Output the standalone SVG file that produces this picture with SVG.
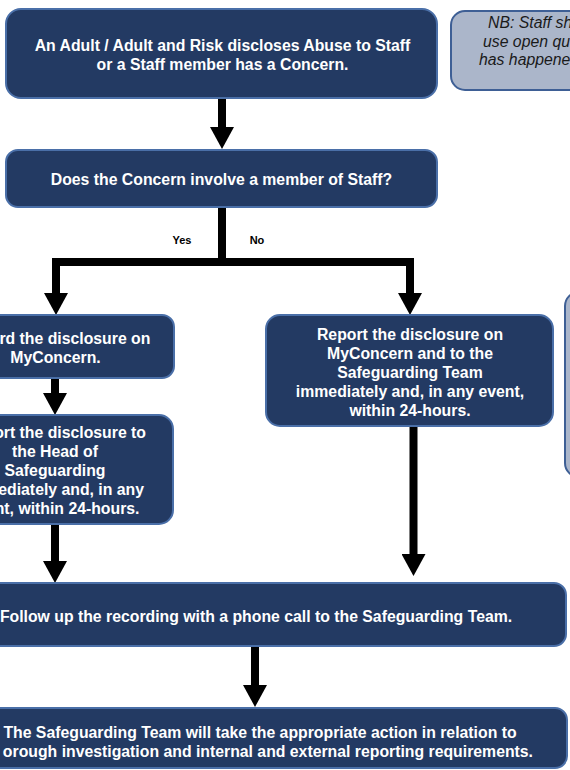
<svg xmlns="http://www.w3.org/2000/svg" width="570" height="770" viewBox="0 0 570 770">
<defs>
<style>
.box{fill:#233a63;stroke:#4a6fa8;stroke-width:2}
.note{fill:#abb6ca;stroke:#3e5f95;stroke-width:2}
.t{font-family:"Liberation Sans",Arial,sans-serif;font-weight:bold;font-size:15.8px;fill:#ffffff}
.m{text-anchor:middle}
.e{text-anchor:end}
.nt{font-family:"Liberation Sans",Arial,sans-serif;font-style:italic;font-size:15.8px;fill:#1a1a1a}
.lbl{font-family:"Liberation Sans",Arial,sans-serif;font-weight:bold;font-size:11px;fill:#000;text-anchor:middle}
.c{fill:none;stroke:#000;stroke-width:8;stroke-linejoin:miter;marker-end:url(#ah)}
.s{fill:none;stroke:#000;stroke-width:8}
</style>
<marker id="ah" markerUnits="userSpaceOnUse" markerWidth="22" markerHeight="24" viewBox="0 0 22 24" refX="0" refY="12" orient="auto">
<path d="M0,0 L22,12 L0,24 Z" fill="#000"/>
</marker>
</defs>
<rect width="570" height="770" fill="#ffffff"/>
<g id="connectors">
<path class="c" d="M222,98 V127"/>
<path class="s" d="M222,207 V262"/>
<path class="c" d="M222,262 H56 V293"/>
<path class="c" d="M222,262 H410 V293"/>
<path class="c" d="M55,378 V393"/>
<path class="c" d="M55,524 V561"/>
<path class="c" d="M413.5,426 V554"/>
<path class="c" d="M255,646 V685"/>
<text class="lbl" x="182" y="244">Yes</text>
<text class="lbl" x="257" y="244">No</text>
</g>
<g id="n-start">
<rect class="box" x="6" y="9" width="431" height="89" rx="15"/>
<text class="t m" x="222.5" y="51">An Adult / Adult and Risk discloses Abuse to Staff</text>
<text class="t m" x="222.5" y="70">or a Staff member has a Concern.</text>
</g>
<g id="n-note">
<rect class="note" x="451" y="11" width="160" height="79" rx="14"/>
<text class="nt" x="488" y="28">NB: Staff sh</text>
<text class="nt" x="483" y="46.5">use open qu</text>
<text class="nt" x="479" y="65">has happene</text>
</g>
<g id="n-question">
<rect class="box" x="6" y="150" width="431" height="57" rx="12"/>
<text class="t m" x="221.5" y="185">Does the Concern involve a member of Staff?</text>
</g>
<g id="n-record">
<rect class="box" x="-70" y="315" width="244" height="63" rx="12"/>
<text class="t e" x="150.4" y="344">rd the disclosure on</text>
<text class="t m" x="55.5" y="363">MyConcern.</text>
</g>
<g id="n-head">
<rect class="box" x="-70" y="415" width="243" height="109" rx="14"/>
<text class="t e" x="146" y="438">ort the disclosure to</text>
<text class="t m" x="55" y="457">the Head of</text>
<text class="t m" x="55" y="476">Safeguarding</text>
<text class="t e" x="144" y="495">ediately and, in any</text>
<text class="t e" x="139.5" y="514">nt, within 24-hours.</text>
</g>
<g id="n-report">
<rect class="box" x="266" y="315" width="287" height="111" rx="14"/>
<text class="t m" x="410" y="340">Report the disclosure on</text>
<text class="t m" x="410" y="359">MyConcern and to the</text>
<text class="t m" x="410" y="378">Safeguarding Team</text>
<text class="t m" x="410" y="397">immediately and, in any event,</text>
<text class="t m" x="410" y="416">within 24-hours.</text>
</g>
<g id="n-side">
<rect class="note" x="565" y="292" width="40" height="185" rx="14"/>
</g>
<g id="n-follow">
<rect class="box" x="-54" y="583" width="620" height="63" rx="12"/>
<text class="t m" x="256" y="622">Follow up the recording with a phone call to the Safeguarding Team.</text>
</g>
<g id="n-action">
<rect class="box" x="-47" y="708" width="614" height="60" rx="12"/>
<text class="t m" x="260" y="738">The Safeguarding Team will take the appropriate action in relation to</text>
<text class="t e" x="533" y="757">orough investigation and internal and external reporting requirements.</text>
</g>
</svg>
